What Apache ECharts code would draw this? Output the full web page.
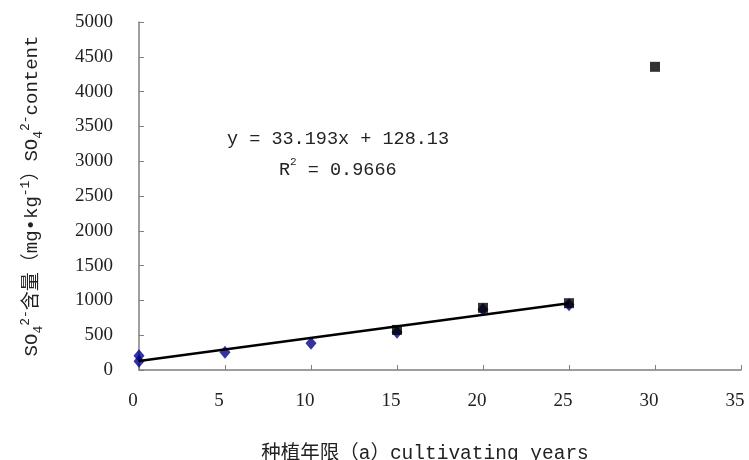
<!DOCTYPE html>
<html>
<head>
<meta charset="utf-8">
<script src="https://cdn.jsdelivr.net/npm/echarts@6/dist/echarts.min.js"></script>
<style>
html,body{margin:0;padding:0;background:#fff;}
#chart{width:749px;height:460px;}
</style>
</head>
<body>
<div id="chart"></div>
<script>
// Data
const diamondX = [0, 0, 5, 10, 15, 20, 25];
const diamondY = [206, 124, 255, 383, 542, 869, 937];
const squareX = [15, 20, 25, 30];
const squareY = [576, 893, 960, 4356];
const trendX = [0, 25];
const trendY = [128.13, 957.96];
const xTicks = [0, 5, 10, 15, 20, 25, 30, 35];
const yTicks = [0, 500, 1000, 1500, 2000, 2500, 3000, 3500, 4000, 4500, 5000];
const eqLine1 = 'y = 33.193x + 128.13';
const eqR2 = ' = 0.9666';

const monoFont = '"Liberation Mono", "Noto Sans CJK SC", monospace';
const serifFont = '"Liberation Serif", serif';

const chart = echarts.init(document.getElementById('chart'), null, {renderer: 'canvas'});
const pair = (xs, ys) => xs.map((x, i) => [x, ys[i]]);

chart.setOption({
  animation: false,
  backgroundColor: '#fff',
  grid: {left: 139, right: 8, top: 22, bottom: 90, containLabel: false, outerBoundsMode: 'none'},
  xAxis: {
    type: 'value', min: xTicks[0], max: xTicks[xTicks.length - 1], interval: 5,
    axisLine: {lineStyle: {color: '#7f7f7f', width: 1.5}},
    axisTick: {inside: true, length: 5, lineStyle: {color: '#7f7f7f'}},
    splitLine: {show: false},
    axisLabel: {margin: 22, color: '#222', fontFamily: serifFont, fontSize: 19, showMaxLabel: true,
      padding: [0, 12, 0, 0], formatter: v => String(v)},
    name: '种植年限（a）cultivating years',
    nameLocation: 'middle', nameGap: 74,
    nameTextStyle: {fontFamily: monoFont, fontSize: 19.5, color: '#222', padding: [0, 30, 0, 0]}
  },
  yAxis: {
    type: 'value', min: yTicks[0], max: yTicks[yTicks.length - 1], interval: 500,
    axisLine: {show: true, lineStyle: {color: '#7f7f7f', width: 1.5}},
    axisTick: {show: true, inside: true, length: 5, lineStyle: {color: '#7f7f7f'}},
    splitLine: {show: false},
    axisLabel: {margin: 26, color: '#222', fontFamily: serifFont, fontSize: 19,
      formatter: v => String(v)},
    name: '{t|SO}{sub|4}{sup|2-}{t|含量（mg•kg}{sup|-1}{t|）SO}{sub|4}{sup|2-}{t|content}',
    nameLocation: 'middle', nameRotate: 90, nameGap: 94,
    nameTextStyle: {
      color: '#222',
      rich: {
        t: {fontFamily: monoFont, fontSize: 19, color: '#222', lineHeight: 26},
        sub: {fontFamily: monoFont, fontSize: 13, color: '#222', verticalAlign: 'bottom', lineHeight: 13},
        sup: {fontFamily: monoFont, fontSize: 13, color: '#222', verticalAlign: 'top', lineHeight: 13}
      }
    }
  },
  series: [
    {
      type: 'scatter', data: pair(diamondX, diamondY), symbol: 'diamond', symbolSize: [11, 13],
      itemStyle: {color: '#00008b'}, z: 2
    },
    {
      type: 'line', data: pair(trendX, trendY), symbol: 'none',
      lineStyle: {color: '#000', width: 2.5}, z: 3
    },
    {
      type: 'scatter', data: pair(squareX, squareY), symbol: 'rect', symbolSize: 10,
      itemStyle: {color: '#000'}, z: 4
    }
  ],
  graphic: [
    {type: 'text', left: 227, top: 130, style: {text: eqLine1, font: '18.5px ' + monoFont, fill: '#222'}},
    {type: 'text', left: 279, top: 157, style: {
      text: '{a|R}{s|2}{a|' + eqR2 + '}',
      rich: {
        a: {fontFamily: monoFont, fontSize: 18.5, fill: '#222', lineHeight: 26},
        s: {fontFamily: monoFont, fontSize: 11, fill: '#222', verticalAlign: 'top', lineHeight: 12}
      }
    }}
  ]
});
</script>
</body>
</html>
